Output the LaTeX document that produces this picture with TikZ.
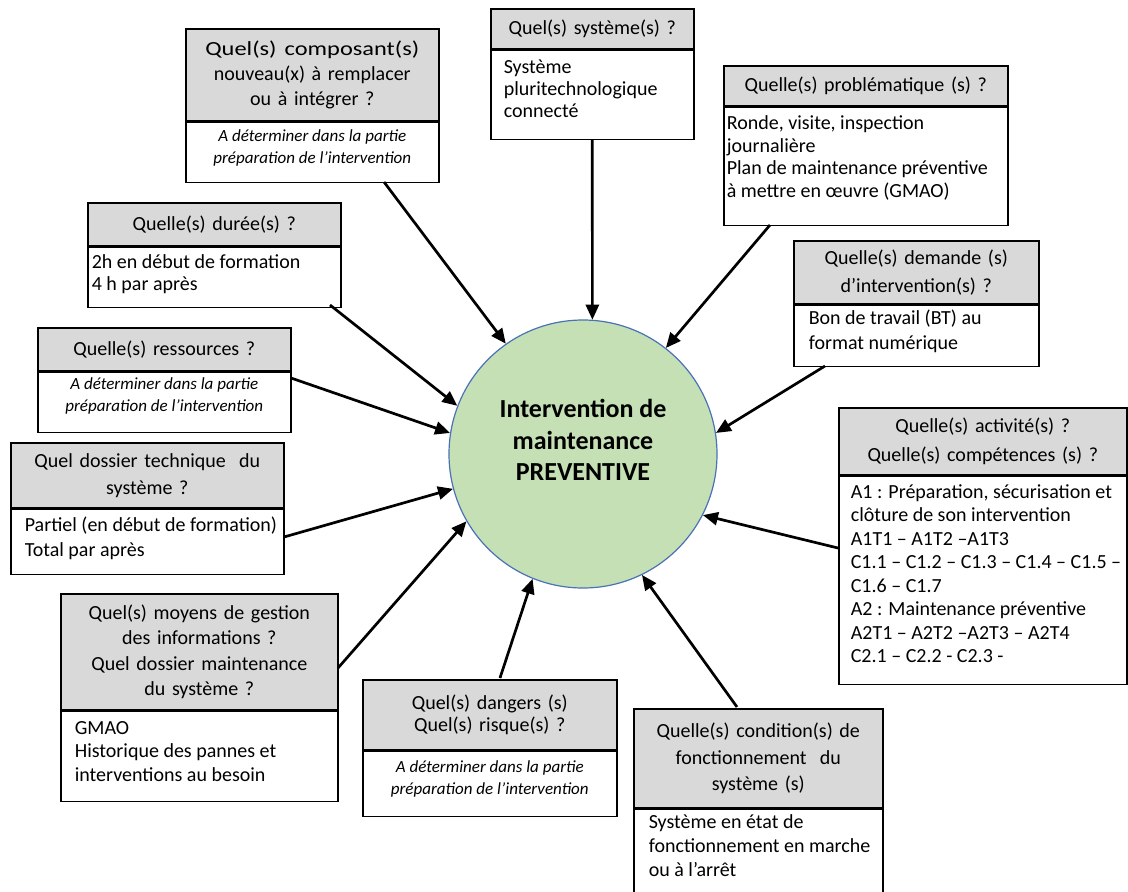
\documentclass[tikz,border=0pt]{standalone}
\usepackage{fontspec}
\usepackage{graphicx}
\setmainfont{Carlito}
\usetikzlibrary{arrows.meta}
\definecolor{hdrgray}{HTML}{D9D9D9}
\definecolor{circgreen}{HTML}{C5E0B4}
\definecolor{circblue}{HTML}{4A72B8}
% header font with a chosen line spacing
\newcommand{\hf}[1]{\fontsize{20}{#1}\selectfont}
% left-aligned cell body: left pad, first baseline, height, box width, text
\newcommand{\cellL}[5]{\hspace*{#1pt}\parbox[t][#3pt][t]{\dimexpr#4pt-#1pt\relax}{\raggedright\rule{0pt}{#2pt}#5}}
% centred cell body: first baseline, height, box width, text
\newcommand{\cellC}[4]{\parbox[t][#2pt][t]{#3pt}{\centering\rule{0pt}{#1pt}#4}}
\begin{document}
\begin{tikzpicture}[x=1pt,y=-1pt,
  hdr/.style={draw, line width=1.6pt, fill=hdrgray, anchor=north west, inner sep=0pt, align=center},
  bdy/.style={draw, line width=1.6pt, fill=white, anchor=north west, inner sep=0pt, font=\hf{23.5}},
  bdyit/.style={bdy, font=\itshape\fontsize{17}{22}\selectfont},
  arr/.style={line width=2.7pt, -{Triangle[length=15pt,width=13pt]}}]
\fill[white] (0,0) rectangle (1128,892);
\useasboundingbox (0,0) rectangle (1128,892);

% central goal
\node[circle, draw=circblue, line width=1.2pt, fill=circgreen, minimum size=268pt, inner sep=0pt,
      align=center, font=\bfseries\fontsize{26}{31.5}\selectfont] (c) at (583,454)
  {Intervention de\\maintenance\\PREVENTIVE\rule[-28pt]{0pt}{28pt}};

% components
\node[hdr, minimum width=253pt, minimum height=92pt, text width=245pt, font=\hf{25}] (h1) at (185,28)
  {\scalebox{1.22}[1]{Quel(s) composant(s)}\\nouveau(x) à remplacer\\ou à intégrer ?};
\node[bdyit] (b1) at (h1.south west) {\cellC{19}{60}{253}{A déterminer dans la partie\\préparation de l’intervention}};

% system
\node[hdr, minimum width=203pt, minimum height=40pt, text width=195pt, font=\hf{25}] (h2) at (490,8)
  {Quel(s) système(s) ?};
\node[bdy, font=\hf{22}] (b2) at (h2.south west) {\cellL{13}{23}{89}{203}{Système\\pluritechnologique\\connecté}};

% issues
\node[hdr, minimum width=284pt, minimum height=40pt, text width=276pt, font=\hf{25}] (h3) at (723,65)
  {Quelle(s) problématique (s) ?};
\node[bdy, font=\hf{22.7}] (b3) at (h3.south west) {\cellL{3}{22}{118}{284}{Ronde, visite, inspection\\journalière\\Plan de maintenance préventive\\à mettre en œuvre (GMAO)}};

% duration
\node[hdr, minimum width=253pt, minimum height=43pt, text width=245pt, font=\hf{25}] (h4) at (87,202)
  {Quelle(s) durée(s) ?};
\node[bdy, font=\hf{22}] (b4) at (h4.south west) {\cellL{4}{21}{60}{253}{2h en début de formation\\4 h par après}};

% resources
\node[hdr, minimum width=253pt, minimum height=43pt, text width=245pt, font=\hf{25}] (h5) at (37,327)
  {Quelle(s) ressources ?};
\node[bdyit] (b5) at (h5.south west) {\cellC{17}{60}{253}{A déterminer dans la partie\\préparation de l’intervention}};

% technical file
\node[hdr, minimum width=273pt, minimum height=65pt, text width=265pt, font=\hf{27}] (h6) at (10,442)
  {Quel dossier technique~ du\\système ?};
\node[bdy, font=\hf{25}] (b6) at (h6.south west) {\cellL{14}{22}{65}{273}{Partiel (en début de formation)\\Total par après}};

% work request
\node[hdr, minimum width=245pt, minimum height=63pt, text width=237pt, font=\hf{28}] (h7) at (793,240)
  {Quelle(s) demande (s)\\d’intervention(s) ?};
\node[bdy, font=\hf{25}] (b7) at (h7.south west) {\cellL{15}{19}{61}{245}{Bon de travail (BT) au\\format numérique}};

% activities and skills
\node[hdr, minimum width=288pt, minimum height=67pt, text width=280pt, font=\hf{29}] (h8) at (838,407)
  {Quelle(s) activité(s) ?\\Quelle(s) compétences (s) ?};
\node[bdy] (b8) at (h8.south west) {\cellL{12}{22}{208}{288}{A1 : Préparation, sécurisation et\\clôture de son intervention\\A1T1 – A1T2 –A1T3\\C1.1 – C1.2 – C1.3 – C1.4 – C1.5 –\\C1.6 – C1.7\\A2 : Maintenance préventive\\A2T1 – A2T2 –A2T3 – A2T4\\C2.1 – C2.2 - C2.3 -}};

% information management
\node[hdr, minimum width=277pt, minimum height=116pt, text width=269pt, font=\hf{25.5}] (h9) at (60,593)
  {Quel(s) moyens de gestion\\des informations ?\\Quel dossier maintenance\\du système ?};
\node[bdy] (b9) at (h9.south west) {\cellL{14}{23}{90}{277}{GMAO\\Historique des pannes et\\interventions au besoin}};

% hazards
\node[hdr, minimum width=254pt, minimum height=70pt, text width=246pt, font=\hf{22}] (h10) at (362,679)
  {Quel(s) dangers (s)\\Quel(s) risque(s) ?};
\node[bdyit] (b10) at (h10.south west) {\cellC{21}{65}{254}{A déterminer dans la partie\\préparation de l’intervention}};

% operating conditions
\node[hdr, minimum width=249pt, minimum height=99pt, text width=241pt, font=\hf{26.5}] (h11) at (633,708)
  {Quelle(s) condition(s) de\\fonctionnement~ du\\système (s)};
\node[bdy, font=\hf{24}] (b11) at (h11.south west) {\cellL{15}{19}{83}{249}{Système en état de\\fonctionnement en marche\\ou à l’arrêt}};

% arrow starting points on the boxes
\coordinate (fromComp) at (384,182);
\coordinate (fromProb) at (770,225);
\coordinate (fromDem) at (825,366);
\coordinate (fromAct) at (838,548);
\coordinate (fromCond) at (737,707);
\coordinate (fromDang) at (500,678);
\coordinate (fromMoy) at (338,668);
\coordinate (fromDoss) at (284,537);
\coordinate (fromRess) at (291,378);
\coordinate (fromDur) at (330,305);

\draw[arr] (fromComp) -- (c.125);
\draw[arr] (b2.south) -- (c.86);
\draw[arr] (fromProb) -- (c.52);
\draw[arr] (fromDem) -- (c.9);
\draw[arr] (fromAct) -- (c.-27);
\draw[arr] (fromCond) -- (c.-64);
\draw[arr] (fromDang) -- (c.-112);
\draw[arr] (fromMoy) -- (c.-150);
\draw[arr] (fromDoss) -- (c.-165);
\draw[arr] (fromRess) -- (c.171);
\draw[arr] (fromDur) -- (c.159);
\end{tikzpicture}
\end{document}
